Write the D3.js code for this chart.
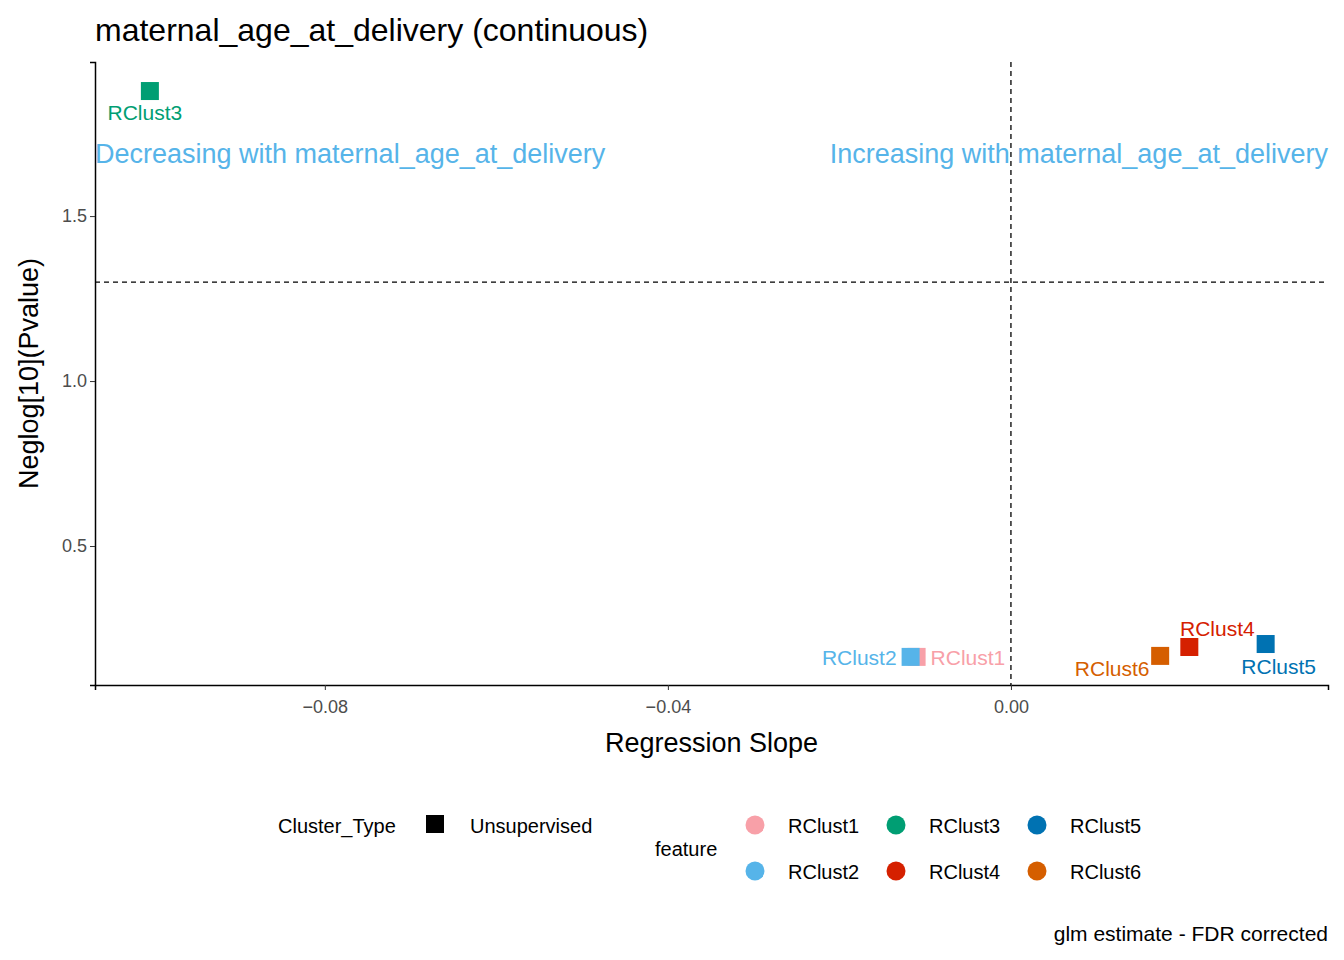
<!DOCTYPE html>
<html>
<head>
<meta charset="utf-8">
<script src="https://cdn.jsdelivr.net/npm/d3@7"></script>
<style>
  body { margin: 0; background: #fff; }
  text { font-family: "Liberation Sans", Arial, sans-serif; }
</style>
</head>
<body>
<svg id="chart" width="1344" height="960"></svg>
<script>
// data
const features = ["RClust1", "RClust2", "RClust3", "RClust4", "RClust5", "RClust6"];
const slopes = [-0.0110, -0.0117, -0.1004, 0.0208, 0.0297, 0.0174];
const neglogP = [0.164, 0.164, 1.879, 0.194, 0.203, 0.167];
const colors = ["#F8A0A8", "#56B4E9", "#009E73", "#D52000", "#0072B2", "#D55E00"];
const xTicks = [-0.08, -0.04, 0.00];
const yTicks = [0.5, 1.0, 1.5];
// label nudges (pixels), mimicking ggrepel placement
const labelDx = [14, -14, -5, 28, 13, -48];
const labelDy = [1, 1, 22, -18, 23, 13];
const labelAnchor = ["start", "end", "middle", "middle", "middle", "middle"];

const svg = d3.select("#chart");
const margin = { top: 62, right: 16, bottom: 275, left: 95 };
const width = 1344 - margin.left - margin.right,
      height = 960 - margin.top - margin.bottom;
const g = svg.append("g").attr("transform", "translate(" + margin.left + "," + margin.top + ")");

const x = d3.scaleLinear().domain([-0.1068, 0.03697]).range([0, width]);
const y = d3.scaleLinear().domain([0.0788, 1.967]).range([height, 0]);

// axes
const xAxis = g.append("g").attr("transform", "translate(0," + height + ")")
  .call(d3.axisBottom(x).tickValues(xTicks).tickFormat(d3.format(".2f")).tickSizeOuter(0).tickSize(5));
const yAxis = g.append("g")
  .call(d3.axisLeft(y).tickValues(yTicks).tickFormat(d3.format(".1f")).tickSizeOuter(0).tickSize(5));
[xAxis, yAxis].forEach(a => {
  a.select(".domain").attr("stroke", "#000").attr("stroke-width", 1.5);
  a.selectAll(".tick line").attr("stroke", "#333");
  a.selectAll(".tick text").attr("fill", "#4d4d4d").style("font-size", "18px")
    .style("font-family", "Liberation Sans, Arial, sans-serif");
});
xAxis.selectAll(".tick text").attr("dy", "1.1em");

// reference lines
g.append("line").attr("x1", 0).attr("x2", width).attr("y1", y(1.3)).attr("y2", y(1.3))
  .attr("stroke", "#000").attr("stroke-dasharray", "5,4").attr("stroke-width", 1.3);
g.append("line").attr("x1", x(0)).attr("x2", x(0)).attr("y1", 0).attr("y2", height)
  .attr("stroke", "#000").attr("stroke-dasharray", "5,4").attr("stroke-width", 1.3);

// annotations
g.append("text").attr("x", 0).attr("y", 101).attr("fill", "#56B4E9").style("font-size", "27px")
  .text("Decreasing with maternal_age_at_delivery");
g.append("text").attr("x", width).attr("y", 101).attr("text-anchor", "end").attr("fill", "#56B4E9")
  .style("font-size", "27px").text("Increasing with maternal_age_at_delivery");

// points
const sz = 18;
g.selectAll("rect.pt").data(features).join("rect").attr("class", "pt")
  .attr("x", (d, i) => x(slopes[i]) - sz / 2).attr("y", (d, i) => y(neglogP[i]) - sz / 2)
  .attr("width", sz).attr("height", sz).attr("fill", (d, i) => colors[i]);

g.selectAll("text.lbl").data(features).join("text").attr("class", "lbl")
  .attr("x", (d, i) => x(slopes[i]) + labelDx[i]).attr("y", (d, i) => y(neglogP[i]) + labelDy[i])
  .attr("dy", "0.35em").attr("text-anchor", (d, i) => labelAnchor[i])
  .attr("fill", (d, i) => colors[i]).style("font-size", "21px").text(d => d);

// titles
svg.append("text").attr("x", 95).attr("y", 41).style("font-size", "32px").text("maternal_age_at_delivery (continuous)");
svg.append("text").attr("x", margin.left + width / 2).attr("y", 752).attr("text-anchor", "middle")
  .style("font-size", "27px").text("Regression Slope");
svg.append("text").attr("transform", "translate(38," + (margin.top + height / 2) + ") rotate(-90)")
  .attr("text-anchor", "middle").style("font-size", "27px").text("Neglog[10](Pvalue)");
svg.append("text").attr("x", 1328).attr("y", 941).attr("text-anchor", "end").style("font-size", "21px")
  .text("glm estimate - FDR corrected");

// legends
const leg = svg.append("g").style("font-size", "20px");
leg.append("text").attr("x", 278).attr("y", 833).text("Cluster_Type");
leg.append("rect").attr("x", 426).attr("y", 815).attr("width", 18).attr("height", 18).attr("fill", "#000");
leg.append("text").attr("x", 470).attr("y", 833).text("Unsupervised");
leg.append("text").attr("x", 655).attr("y", 856).text("feature");
features.forEach((f, i) => {
  const cx = 755 + Math.floor(i / 2) * 141, cy = 825 + (i % 2) * 46;
  leg.append("circle").attr("cx", cx).attr("cy", cy).attr("r", 9.5).attr("fill", colors[i]);
  leg.append("text").attr("x", cx + 33).attr("y", cy + 8).text(f);
});
</script>
</body>
</html>
